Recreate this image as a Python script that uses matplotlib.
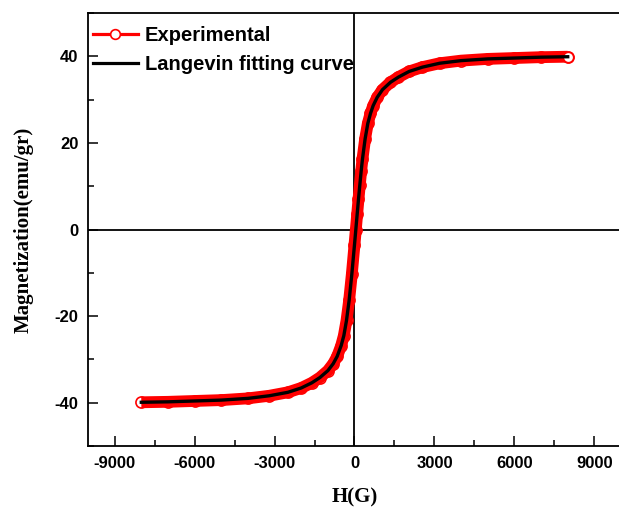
import matplotlib.pyplot as plt
from matplotlib.ticker import MultipleLocator
from matplotlib.lines import Line2D

campo = [-8000, -7000, -6000, -5000, -4000, -3200, -2500, -2000, -1600, -1300,
         -1000, -800, -650, -500, -400, -300, -200, -100, 0, 50,
         100, 150, 200, 250, 300, 400, 500, 600, 700, 850,
         1050, 1350, 1650, 2050, 2550, 3200, 4000, 5000, 6000, 7000, 8000]
magExp = [-39.9, -39.8, -39.6, -39.4, -39.0, -38.4, -37.6, -36.6, -35.4, -34.2,
          -32.6, -31.0, -29.3, -26.8, -24.5, -21.0, -16.3, -10.3, -3.5, 0.0,
          3.5, 7.0, 10.3, 13.5, 16.3, 21.0, 24.5, 26.8, 28.6, 30.5,
          32.3, 34.0, 35.2, 36.5, 37.5, 38.4, 39.0, 39.4, 39.6, 39.8, 39.9]
magFit = [-39.9, -39.8, -39.6, -39.4, -39.0, -38.4, -37.6, -36.6, -35.4, -34.2,
          -32.6, -31.0, -29.3, -26.8, -24.5, -21.0, -16.3, -10.3, -3.5, 0.0,
          3.5, 7.0, 10.3, 13.5, 16.3, 21.0, 24.5, 26.8, 28.6, 30.5,
          32.3, 34.0, 35.2, 36.5, 37.5, 38.4, 39.0, 39.4, 39.6, 39.8, 39.9]
xticks = [-9000, -6000, -3000, 0, 3000, 6000, 9000]
yticks = [-40, -20, 0, 20, 40]

plt.rcParams['font.family'] = ['Liberation Sans', 'DejaVu Sans']
plt.rcParams['font.weight'] = 'bold'
plt.rcParams['axes.unicode_minus'] = False

fig = plt.figure(figsize=(6.19, 5.07), dpi=100)
ax = fig.add_axes([88/619, 61/507, 533/619, 433/507])

# linhas de zero
ax.axhline(0, color='black', lw=1.3, zorder=1)
ax.axvline(0, color='black', lw=1.3, zorder=1)

# curva experimental (faixa vermelha + simbolos abertos)
ax.plot(campo, magExp, '-', color='red', lw=8.5, solid_capstyle='butt', zorder=2)
ax.plot(campo, magExp, 'o', color='red', mfc='none', ms=8, mew=1.2, zorder=3)
ax.plot(campo[-1:], magExp[-1:], 'o', color='red', mfc='white', ms=7.5, mew=1.2, zorder=3)
# ajuste de Langevin
ax.plot(campo, magFit, '-', color='black', lw=2.4, zorder=4)

ax.set_xlim(-10000, 10000)
ax.set_ylim(-50, 50)
ax.set_xticks(xticks)
ax.set_yticks(yticks)
ax.xaxis.set_minor_locator(MultipleLocator(1500))
ax.yaxis.set_minor_locator(MultipleLocator(10))
ax.tick_params(which='both', direction='in', width=1.1)
ax.tick_params(which='major', length=7, labelsize=12, pad=7)
ax.tick_params(which='minor', length=4)
for lab in ax.get_xticklabels() + ax.get_yticklabels():
    lab.set_fontweight('bold')
for s in ax.spines.values():
    s.set_linewidth(1.3)
ax.spines['right'].set_visible(False)

ax.set_xlabel('H(G)', family='Liberation Serif', fontsize=15, fontweight='bold', labelpad=12)
ax.set_ylabel('Magnetization(emu/gr)', family='Liberation Serif', fontsize=15, fontweight='bold', labelpad=15)

handles = [Line2D([], [], color='red', lw=2.3, marker='o', mfc='white', mec='red', ms=7, mew=1.2),
           Line2D([], [], color='black', lw=2.3)]
ax.legend(handles, ['Experimental', 'Langevin fitting curve'], loc='upper left',
          bbox_to_anchor=(0, 0.982), frameon=False, prop={'size': 14.5, 'weight': 'bold'},
          handlelength=2.2, handletextpad=0.35, labelspacing=0.5, borderaxespad=0,
          borderpad=0.26)

plt.savefig('out.png', dpi=100)
